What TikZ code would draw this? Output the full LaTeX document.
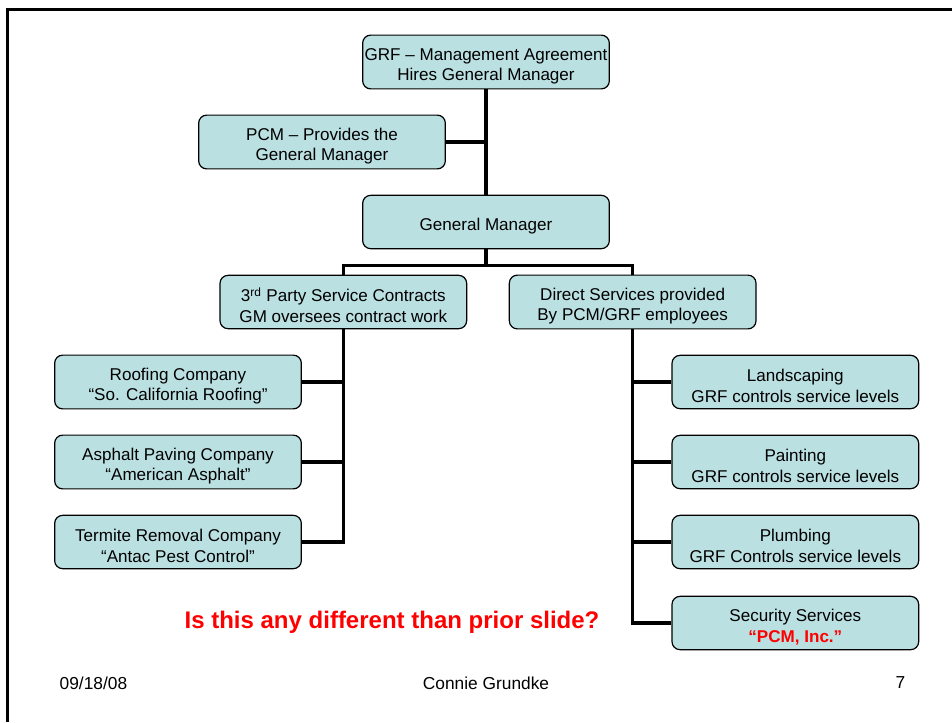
\documentclass[tikz,border=0pt]{standalone}
\usepackage{fontspec}
\setmainfont{Liberation Sans}
\usetikzlibrary{positioning}
\definecolor{boxfill}{RGB}{187,224,226}
\definecolor{slidered}{RGB}{255,0,0}

\begin{document}
\begin{tikzpicture}[x=0.75pt,y=-0.75pt,node distance=60pt,on grid,
  box/.style={draw,rounded corners=6pt,fill=boxfill,line width=0.9pt,
    minimum width=185pt,minimum height=40pt,inner xsep=0pt,align=center,
    font=\fontsize{12.8}{15.5}\selectfont,text height=31pt},
  link/.style={line width=2.3pt},
  footer/.style={font=\fontsize{13}{15}\selectfont}]

  \useasboundingbox (0,0) rectangle (952,722);
  \draw[line width=2.25pt] (7,722) -- (7,9) -- (952,9);

  \node[box]                                   (grf)    at (486,62) {GRF -- Management Agreement\\Hires General Manager};
  \node[box]  [below left=60pt and 123pt of grf]   (pcm)    {PCM -- Provides the\\General Manager};
  \node[box,text height=15pt] [below=120pt of grf] (gm)     {General Manager};
  \node[box]  [below left=60pt and 107pt of gm]    (third)  {3\textsuperscript{rd} Party Service Contracts\\GM oversees contract work};
  \node[box]  [below right=60pt and 110pt of gm]   (direct) {Direct Services provided\\By PCM/GRF employees};

  \node[box]  [below left=60pt and 124pt of third] (roof)   {Roofing Company\\“So. California Roofing”};
  \node[box]  [below=of roof]                      (asph)   {Asphalt Paving Company\\“American Asphalt”};
  \node[box]  [below=of asph]                      (term)   {Termite Removal Company\\“Antac Pest Control”};

  \node[box]  [below right=60pt and 122pt of direct] (land) {Landscaping\\GRF controls service levels};
  \node[box]  [below=of land]                      (paint)  {Painting\\GRF controls service levels};
  \node[box]  [below=of paint]                     (plumb)  {Plumbing\\GRF Controls service levels};
  \node[box]  [below=60.75pt of plumb]             (sec)    {Security Services\\\textcolor{slidered}{\bfseries “PCM, Inc.”}};

  \draw[link] (grf.south) -- (gm.north);
  \draw[link] (pcm.east) -- (pcm.east -| grf.south);
  \draw[link] (gm.south) -- ++(0,-12pt) -| (third.north);
  \draw[link] (gm.south) -- ++(0,-12pt) -| (direct.north);

  \draw[link] (third.south) |- (term.east);
  \foreach \n in {roof,asph}
    \draw[link] (\n.east) -- (\n.east -| third.south);

  \draw[link] (direct.south) |- (sec.west);
  \foreach \n in {land,paint,plumb}
    \draw[link] (\n.west) -- (\n.west -| direct.south);

  \node[text=slidered,font=\bfseries\fontsize{18}{22}\selectfont] (note) at (392,622) {Is this any different than prior slide?};

  \node[footer,anchor=west] (date)   at (55,683)  {09/18/08};
  \node[footer]             (author) at (486,683) {Connie Grundke};
  \node[footer,anchor=east] (page)   at (910,683) {7};
\end{tikzpicture}
\end{document}
